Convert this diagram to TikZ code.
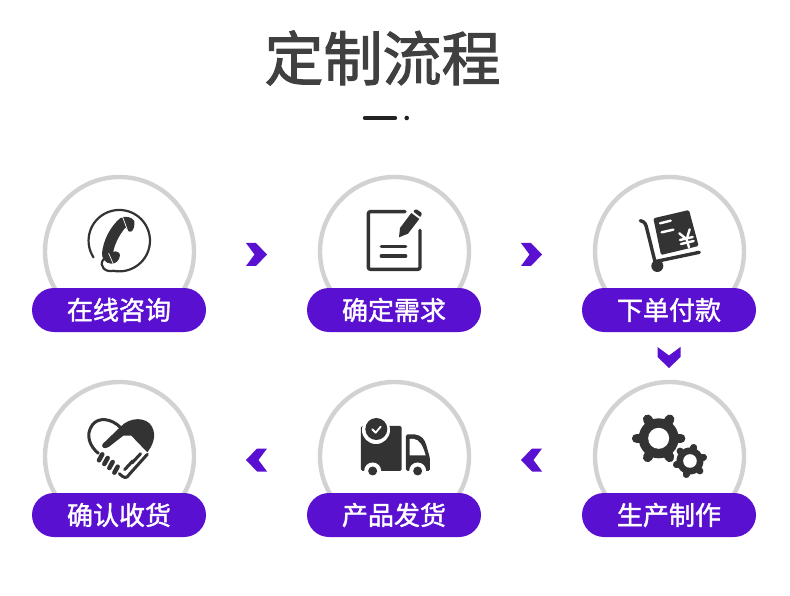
\documentclass[tikz,border=0pt]{standalone}
\usepackage{fontspec}
\usetikzlibrary{
  calc,
  positioning
}
\newfontfamily\diagramcjk[FakeBold=1.5]{Noto Sans CJK SC}
\newfontfamily\diagramtitlecjk[FakeBold=1.8]{Noto Sans CJK SC}
\definecolor{Ink}{HTML}{333333}
\definecolor{TitleInk}{HTML}{404040}
\definecolor{DashInk}{HTML}{222222}
\definecolor{RingGrey}{HTML}{D2D2D2}
\definecolor{BrandFill}{HTML}{5A10D0}
\newcommand{\diagramtitlefont}{\diagramtitlecjk\fontsize{59}{64}\selectfont}
\newcommand{\diagramstepfont}{\diagramcjk\fontsize{26}{30}\selectfont}
\tikzset{
  % One unit is one pixel of the page, counted from its top left corner.
  step ring/.style={
    draw=RingGrey,
    line width=4.4pt,
    circle,
    fill=white,
    minimum size=149pt,
    inner sep=0pt,
    outer sep=0pt
  },
  step pill/.style={
    fill=BrandFill,
    rounded corners=22pt,
    minimum width=174pt,
    minimum height=44pt,
    inner sep=0pt,
    text=white,
    font=\diagramstepfont
  },
  stage title/.style={
    font=\diagramtitlefont,
    text=TitleInk,
    inner sep=0pt
  },
  % Icons are traced on a grid of a third of a pixel.
  icon grid/.style 2 args={
    shift={(#1,#2)},
    x=0.3333pt,
    y=-0.3333pt
  },
  icon line/.style={
    draw=Ink,
    line width=3.4pt,
    line cap=round,
    line join=round
  },
  icon cut/.style={
    draw=white,
    line width=2.4pt,
    line cap=round,
    line join=round
  },
  chevron mark/.pic={
    \fill[BrandFill] (-10.5,-11.5) -- (-0.5,-11.5) -- (10.5,0) -- (-0.5,11.5)
      -- (-10.5,11.5) -- (-2,0) -- cycle;
  }
}
\begin{document}
\begin{tikzpicture}[x=1pt,y=-1pt,node distance=56pt and 126pt]
\useasboundingbox (0,0) rectangle (790,596);

% ---------------------------------------------------------------------------
% Title
% ---------------------------------------------------------------------------
\node[stage title] (titleText) at (382.5,58) {定制流程};
\coordinate (dashStart) at (365,118);
\coordinate (dashEnd) at (395,118);
\draw[draw=DashInk,line width=4.4pt,line cap=round] (dashStart) -- (dashEnd);
\fill[DashInk] (406.7,118) circle[radius=2.3pt];

% ---------------------------------------------------------------------------
% Rings and their labels
% ---------------------------------------------------------------------------
\node[step ring] (ringOnline) at (119.5,251.5) {};
\node[step ring, right=of ringOnline] (ringNeeds) {};
\node[step ring, right=of ringNeeds] (ringOrder) {};
\node[step ring, below=of ringOrder] (ringMake) {};
\node[step ring, left=of ringMake] (ringShip) {};
\node[step ring, left=of ringShip] (ringReceive) {};

\foreach \name/\body in {
  Online/在线咨询,
  Needs/确定需求,
  Order/下单付款,
  Make/生产制作,
  Ship/产品发货,
  Receive/确认收货
}{
  \node[step pill] (pill\name) at ([xshift=-0.5pt,yshift=-58.5pt]ring\name.center) {\body};
}

% ---------------------------------------------------------------------------
% Chevrons between the steps
% ---------------------------------------------------------------------------
\pic (chevA) at ($(ringOnline.center)!0.5!(ringNeeds.center)+(-0.5,3)$) {chevron mark};
\pic (chevB) at ($(ringNeeds.center)!0.5!(ringOrder.center)+(-0.5,3)$) {chevron mark};
\pic[rotate=-90] (chevC) at ($(ringOrder.center)!0.5!(ringMake.center)+(-0.5,3.5)$) {chevron mark};
\pic[rotate=180] (chevD) at ($(ringMake.center)!0.5!(ringShip.center)+(-0.5,3.5)$) {chevron mark};
\pic[rotate=180] (chevE) at ($(ringShip.center)!0.5!(ringReceive.center)+(-0.5,3.5)$) {chevron mark};

% ---------------------------------------------------------------------------
% Telephone
% ---------------------------------------------------------------------------
\begin{scope}[icon grid={30}{170}]
  \draw[icon line,line width=2.2pt] (190.6,262.2) arc[start angle=213,end angle=-101,radius=30.7pt]
    .. controls (228,308) and (205,290) .. (220,268);
  \fill[Ink] (216,250) .. controls (220,208) and (243,168) .. (270,145)
    .. controls (285,136) and (307,141) .. (313,153)
    .. controls (315,168) and (310,180) .. (305,184)
    .. controls (296,188) and (290,180) .. (287,172)
    .. controls (268,194) and (254,222) .. (250,245)
    .. controls (260,242) and (270,248) .. (270,256)
    .. controls (268,272) and (257,282) .. (243,281)
    .. controls (226,280) and (215,265) .. (216,250) -- cycle;
  \draw[icon cut,line width=0.7pt] (278,141) -- (293,182);
  \draw[icon cut,line width=0.7pt] (236,250) -- (249,280);
\end{scope}

% ---------------------------------------------------------------------------
% Note and pencil
% ---------------------------------------------------------------------------
\begin{scope}[icon grid={310}{170}]
  \draw[icon line,rounded corners=2pt] (285,125) -- (175,125) -- (175,298) -- (330,298) -- (330,181);
  \draw[icon line] (214,229) -- (287,229);
  \draw[icon line] (214,258) -- (287,258);
  \fill[Ink] (267,202) -- (270,174) -- (304,129) -- (328,147) -- (294,191) -- cycle;
  \fill[Ink,rounded corners=1pt] (309,124) -- (318,117) -- (336,129) -- (332,142) -- cycle;
\end{scope}

% ---------------------------------------------------------------------------
% Trolley with payment slip
% ---------------------------------------------------------------------------
\begin{scope}[icon grid={580}{170}]
  \fill[Ink,rounded corners=1.5pt] (220,145) -- (327,120) -- (356,228) -- (243,255) -- cycle;
  \draw[icon cut] (240,160) -- (272,152);
  \draw[icon cut] (245,187) -- (280,179);
  \draw[icon cut] (298,190) -- (320,208) -- (329,178);
  \draw[icon cut] (300,210) -- (338,201);
  \draw[icon cut] (303,222) -- (341,213);
  \draw[icon cut] (320,208) -- (327,232);
  \draw[icon line] (181,152) .. controls (196,155) and (198,165) .. (201,178) -- (225,275) -- (358,247);
  \fill[Ink] (232,288) circle[radius=6pt];
\end{scope}

% ---------------------------------------------------------------------------
% Gears
% ---------------------------------------------------------------------------
\begin{scope}[icon grid={580}{375}]
  \foreach \toothAngle in {0,60,...,300}{
    \draw[icon line,line width=9.5pt] (236,190) -- ++(\toothAngle:22pt);
  }
  \fill[Ink] (236,190) circle[radius=20pt];
  \fill[white] (236,190) circle[radius=10.5pt];
  \fill[white] (330,258) circle[radius=16.5pt];
  \foreach \toothAngle in {15,75,...,315}{
    \draw[icon line,line width=7pt] (330,258) -- ++(\toothAngle:14pt);
  }
  \fill[Ink] (330,258) circle[radius=13.5pt];
  \fill[white] (330,258) circle[radius=6.8pt];
\end{scope}

% ---------------------------------------------------------------------------
% Delivery truck
% ---------------------------------------------------------------------------
\begin{scope}[icon grid={310}{375}]
  \fill[Ink,rounded corners=1.5pt] (153,153) -- (275,153) -- (275,288) -- (153,288) -- cycle;
  \fill[Ink,rounded corners=1.5pt] (288,178) -- (310,178) .. controls (335,180) and (345,195) .. (350,215)
    -- (360,250) -- (360,288) -- (288,288) -- cycle;
  \fill[white] (299,192) -- (312,192) .. controls (328,194) and (338,210) .. (347,241) -- (299,241) -- cycle;
  \fill[white] (198,165) circle[radius=14pt];
  \fill[Ink] (199,162) circle[radius=11pt];
  \draw[icon cut,line width=1.8pt] (187,163) -- (197,173) -- (212,155);
  \foreach \wheelX in {188,323}{
    \fill[white] (\wheelX,288) circle[radius=8.5pt];
    \fill[Ink] (\wheelX,288) circle[radius=4.5pt];
  }
\end{scope}

% ---------------------------------------------------------------------------
% Heart and handshake
% ---------------------------------------------------------------------------
\begin{scope}[icon grid={30}{375}]
  \draw[icon line,line width=3pt] (272,158) .. controls (245,130) and (205,125) .. (187,150)
    .. controls (165,180) and (180,215) .. (205,235);
  \fill[Ink] (218,207) -- (272,155) .. controls (300,125) and (350,125) .. (366,155)
    .. controls (382,185) and (365,215) .. (352,232) -- (304,182) -- (280,182) -- (236,216)
    .. controls (222,225) and (212,215) .. (218,207) -- cycle;
  \draw[icon line,line width=3pt] (352,238) -- (298,298) .. controls (290,312) and (282,310) .. (268,296);
  \draw[icon line,line width=3pt] (332,236) -- (306,264);
  \draw[icon line,line width=3pt] (308,258) -- (284,284);
  \foreach \beadX/\beadY in {212/247,228/258,243/270,258/284}{
    \draw[icon line,line width=4.5pt] ($(\beadX,\beadY)+(-5,9)$) -- ($(\beadX,\beadY)+(5,-9)$);
  }
\end{scope}

\end{tikzpicture}
\end{document}
